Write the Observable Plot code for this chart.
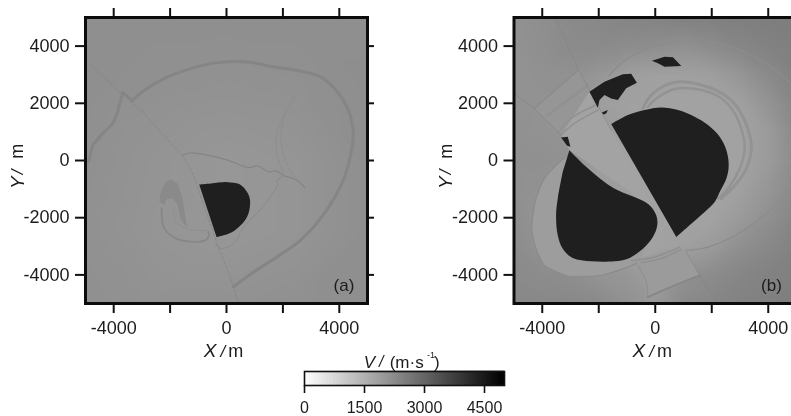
<!DOCTYPE html>
<html>
<head>
<meta charset="utf-8">
<script src="https://cdn.jsdelivr.net/npm/d3@7"></script>
<script src="https://cdn.jsdelivr.net/npm/@observablehq/plot@0.6"></script>
<style>
html,body{margin:0;padding:0;background:#fff;overflow:hidden}
#page{position:relative;width:791px;height:416px;overflow:hidden;filter:blur(0.45px)}
#page svg{position:absolute;top:0;max-width:none}
</style>
</head>
<body>
<div id="page"></div>
<script>
// Shared axis values
const tickValues = [-4000, -2000, 0, 2000, 4000];
const xLabelled = [-4000, 0, 4000];
const legendTicks = [0, 1500, 3000, 4500];
const velocityDomain = [0, 5000];

// Background velocity fields, rows from Y=5000 down to Y=-5000
const gridA = [
  [2200,2200,2200,2200,2200],
  [2200,2160,2140,2160,2210],
  [2180,2100,2040,2080,2200],
  [2160,2080,2040,2080,2200],
  [2180,2140,2140,2180,2210]
];
const gridB = [
  [2140,2210,2290,2330,2390,2430,2470,2490,2510,2530,2550],
  [2140,2200,2270,2290,2250,2210,2160,2250,2370,2450,2510],
  [2120,2160,2160,2060,1900,1860,1860,1900,2060,2290,2450],
  [2140,2140,2060,1900,1860,1820,1820,1820,1860,2100,2370],
  [2160,2140,2100,1960,1820,1820,1820,1820,1820,1960,2290],
  [2180,2180,2140,1940,1820,1820,1820,1820,1820,1960,2250],
  [2180,2140,2020,1860,1820,1820,1820,1820,1860,2060,2290],
  [2210,2100,1900,1820,1820,1820,1820,1820,1960,2180,2370],
  [2250,2140,1900,1860,1820,1820,1860,1960,2180,2330,2450],
  [2290,2250,2210,2100,2060,1900,2160,2250,2370,2450,2490],
  [2330,2330,2330,2290,2160,2020,2290,2370,2450,2490,2530]
];

// Panel (a)
const aBlob = [[-968,-838],[-555,-803],[35,-757],[448,-826],[684,-1036],[800,-1240],[838,-1443],[779,-1851],[566,-2200],[153,-2526],[-354,-2677]];
const aHook = [[-2384,-1443],[-2325,-1094],[-2148,-745],[-1971,-663],[-1735,-803],[-1558,-1327],[-1404,-2351],[-1617,-2084],[-1735,-1560],[-1912,-1327],[-2112,-1327],[-2207,-1560]];
const aOuter = [[-3363,2072],[-2915,2456],[-2089,2922],[-1263,3213],[-319,3422],[743,3445],[1687,3271],[2631,3120],[3339,2922],[3929,2398],[4342,1699],[4496,943],[4402,186],[4166,-629],[3811,-1327],[3339,-2025],[2631,-2782],[1805,-3364],[979,-3888],[248,-4412]];
const aWest = [[-4897,-47],[-4744,535],[-4390,943],[-4036,1292],[-3859,1699],[-3682,2375],[-3410,2165]];
const aFault = [[-4862,3387],[-3918,2514],[-3033,1758],[-1853,477],[-1558,186],[-1145,-570],[-319,-2957],[153,-4121],[413,-4935]];
const aInner = [[-1558,186],[-1263,268],[-673,186],[35,12],[802,-244],[1097,-186],[1510,-396],[1746,-361],[2041,-535],[2454,-663],[2773,-943]];
const aInnerSouth = [[2041,-535],[1805,-687],[1805,-861],[1333,-1560],[576,-2375],[271,-2898],[-200,-3073],[-380,-2950]];
const aDotted1 = [[2454,2282],[2100,1699],[1805,1059],[1781,303],[2041,-512]];
const aDotted2 = [[2050,1600],[1930,640],[2290,-400],[2650,-810]];
const aLoop = [[-2301,-1676],[-2207,-2375],[-1794,-2724],[-1263,-2840],[-767,-2794],[-614,-2607],[-649,-2491]];
const aLoopInner = [[-1888,-1734],[-1794,-2142],[-1381,-2398],[-673,-2444]];

// Panel (b)
const bMain = [[-1560,1273],[-969,1588],[-378,1764],[213,1857],[804,1764],[1395,1530],[1868,1238],[2281,829],[2518,362],[2600,-164],[2518,-631],[2281,-1098],[2104,-1448],[1749,-1799],[1277,-2208],[745,-2675]];
const bSouth = [[-3038,362],[-2506,-164],[-1797,-748],[-1324,-1040],[-615,-1332],[-201,-1565],[35,-1916],[71,-2266],[-83,-2675],[-437,-3084],[-969,-3434],[-1442,-3527],[-2269,-3527],[-2920,-3411],[-3274,-3084],[-3451,-2616],[-3511,-1916],[-3451,-1332],[-3274,-397]];
const bSpot = [[-3333,806],[-3097,829],[-3002,479],[-3120,514]];
const bNorth = [[-2329,2406],[-1797,2756],[-1147,3013],[-851,3037],[-650,2721],[-1028,2523],[-1324,2114],[-1560,2172],[-1797,2289],[-1974,2114],[-2033,1845]];
const bSliver = [[-1891,1682],[-1678,1764],[-1738,1647],[-1832,1612]];
const bTop = [[-118,3492],[331,3632],[626,3609],[922,3305],[331,3282],[95,3399]];
const bWedge = [[-2329,2406],[-1560,1063],[-24,-1705],[-1000,-1000],[-3038,362],[-3333,888]];
const bBand = [[-2719,3165],[-2329,2464],[-3333,888],[-4279,1822]];
const bLowWedge = [[-851,-3492],[863,-3025],[1099,-3200],[1572,-4018],[-260,-4777],[-556,-3784]];
const bSouthZone = [[-3097,187],[-3511,-164],[-3924,-631],[-4220,-1332],[-4373,-2383],[-4220,-3084],[-3924,-3668],[-3097,-4041],[-1915,-4018],[-674,-3609],[-500,-3500],[0,-2000],[-1000,-1000]];
const bOuterSE = [[1099,-3142],[1868,-3025],[3050,-2500],[3995,-1799],[4704,-981],[5059,-280]];
const bOuterN = [[-1678,2932],[-969,3574],[-24,3983],[1277,4181],[2459,4041],[3641,3574],[4468,2990],[4941,2581],[5295,2200]];
const bRing1 = [[-437,1822],[-142,2289],[686,2733],[1631,2640],[2459,2289],[2931,1822],[3345,888],[3404,420],[3227,-280],[2872,-806],[2340,-1332]];
const bRing2 = [[-260,1880],[95,2208],[686,2500],[1631,2464],[2340,2172],[2813,1647],[3109,888],[3168,420],[2990,-280],[2577,-981],[2222,-1332]];
const bNW1 = [[-2719,3165],[-4279,1822]];
const bNW2 = [[-2388,2640],[-3806,1588]];
const bNW3 = [[-2092,1939],[-2979,1472],[-3451,946]];
const bNW4 = [[-2033,1764],[-2860,1296],[-3333,888]];
const bSW = [[-3097,187],[-3511,-164],[-3924,-631],[-4220,-1332],[-4373,-2383],[-4220,-3084],[-3924,-3668],[-3097,-4041],[-1915,-4018],[-674,-3609]];
const bLow1 = [[-851,-3492],[-24,-3375],[863,-3025]];
const bLow2 = [[-496,-3574],[213,-3434],[898,-3107]];
const bLow3 = [[-260,-4777],[686,-4368],[1572,-4018]];
const bLow4 = [[-615,-3667],[-319,-4251],[-260,-4777]];
const bFaultN = [[-3511,4917],[-2719,3165],[-1560,1063]];
const bFaultS = [[1099,-3200],[1572,-4018],[2222,-5011]];
const bFaultW = [[-4964,2313],[-4279,1822],[-3333,888]];

const fontFamily = "'Liberation Sans',Arial,sans-serif";
const ink = "#1c1c1c";
const colorScale = {type: "linear", domain: velocityDomain, range: ["#ffffff", "#000000"]};

const px = d => d[0], py = d => d[1];
const poly = (a, v, curve = "linear") => Plot.line(a, {x: px, y: py, fill: () => v, stroke: "none", curve, clip: true});
const path = (a, v, w, extra = {}) =>
  Plot.line(a, {x: px, y: py, stroke: () => v, strokeWidth: w, curve: "catmull-rom", clip: true, ...extra});
const fromGrid = rows => {
  const n = rows.length, step = 10000 / (n - 1), out = [];
  rows.forEach((row, i) => row.forEach((V, j) => out.push({x: -5000 + j * step, y: 5000 - i * step, V})));
  return out;
};
const text = (s, opts) => Plot.text([s], {text: d => d, fill: ink, ...opts});

function panel(grid, shapes, label, labelX, width, marginLeft, marginRight) {
  return Plot.plot({
    width, height: 370, marginLeft, marginRight, marginTop: 17, marginBottom: 67,
    style: {fontFamily, background: "transparent", overflow: "visible"},
    x: {domain: [-5000, 5000]},
    y: {domain: [-5000, 5000]},
    color: colorScale,
    marks: [
      Plot.raster(fromGrid(grid), {x: "x", y: "y", fill: "V", interpolate: "barycentric",
        x1: -5000, x2: 5000, y1: -5000, y2: 5000, pixelSize: 1}),
      ...shapes,
      Plot.frame({stroke: "#0c0c0c", strokeWidth: 3}),
      Plot.axisX({anchor: "bottom", ticks: tickValues, tickSize: 10, tickPadding: 8, strokeWidth: 2, stroke: "#111",
        fill: ink, fontSize: 18, label: null, tickFormat: d => xLabelled.includes(d) ? String(d) : ""}),
      Plot.axisX({anchor: "top", ticks: tickValues, tickSize: 10, strokeWidth: 2, stroke: "#111", label: null, tickFormat: () => ""}),
      Plot.axisY({anchor: "left", ticks: tickValues, tickSize: 10, tickPadding: 6, strokeWidth: 2, stroke: "#111",
        fill: ink, fontSize: 18, label: null, tickFormat: d => String(d)}),
      Plot.axisY({anchor: "right", ticks: tickValues, tickSize: 6, strokeWidth: 2, stroke: "#111", label: null, tickFormat: () => ""}),
      text(label, {x: () => labelX, y: () => -4360, fontSize: 17}),
      text("X", {x: () => -580, frameAnchor: "bottom", dy: 53, fontSize: 19, fontStyle: "italic"}),
      text("/", {x: () => -130, frameAnchor: "bottom", dy: 53, fontSize: 17, fontStyle: "italic"}),
      text("m", {x: () => 330, frameAnchor: "bottom", dy: 53, fontSize: 18}),
      text("Y", {y: () => -1000, frameAnchor: "left", dx: -68, fontSize: 19, fontStyle: "italic", rotate: -90}),
      text("/", {y: () => -480, frameAnchor: "left", dx: -68, fontSize: 17, fontStyle: "italic", rotate: -90}),
      text("m", {y: () => 60, frameAnchor: "left", dx: -68, fontSize: 18, rotate: -90})
    ]
  });
}

const shapesA = [
  path(aOuter, 2400, 3),
  path(aWest, 2400, 3, {curve: "linear"}),
  path(aFault, 2450, 0.7, {strokeDasharray: "3 2", curve: "linear"}),
  path(aInner, 2400, 1.2),
  path(aInnerSouth, 2350, 0.8),
  path(aDotted1, 2350, 0.7, {strokeDasharray: "1 1.5"}),
  path(aDotted2, 2350, 0.7, {strokeDasharray: "1 1.5"}),
  poly(aHook, 2300),
  path(aLoop, 2350, 1.8),
  path(aLoopInner, 2250, 0.7),
  poly(aBlob, 4400, "catmull-rom")
];

const shapesB = [
  poly(bSouthZone, 1930),
  poly(bBand, 2060),
  poly(bLowWedge, 1960),
  poly(bWedge, 1800),
  path(bOuterSE, 2250, 1.3),
  path(bOuterN, 2250, 1.3),
  path(bRing1, 2120, 3),
  path(bRing2, 2120, 2.4),
  path(bNW1, 2300, 1.2),
  path(bNW2, 2150, 3),
  path(bNW3, 2150, 1.5),
  path(bNW4, 2150, 1.5),
  path(bSW, 2250, 1.3),
  path(bLow1, 2200, 1.3),
  path(bLow2, 2200, 1.3),
  path(bLow3, 2350, 2),
  path(bLow4, 2250, 1),
  path(bFaultN, 2500, 0.6, {strokeDasharray: "2 1.5", curve: "linear"}),
  path(bFaultS, 2500, 0.6, {strokeDasharray: "2 1.5", curve: "linear"}),
  path(bFaultW, 2500, 0.6, {strokeDasharray: "2 1.5", curve: "linear"}),
  poly(bSouth, 4400, "catmull-rom"),
  poly(bMain, 4400, "catmull-rom"),
  poly(bSpot, 4400),
  poly(bNorth, 4400),
  poly(bSliver, 4400),
  poly(bTop, 4400)
];

const legendSteps = d3.range(0, 5000, 25);
const legendPlot = Plot.plot({
  width: 791, height: 76, marginLeft: 304, marginRight: 287, marginTop: 31, marginBottom: 31,
  style: {fontFamily, background: "transparent", overflow: "visible"},
  x: {domain: velocityDomain},
  y: {axis: null},
  color: colorScale,
  marks: [
    Plot.rectX(legendSteps, {x1: d => d, x2: d => d + 25, fill: d => d + 12.5, inset: -0.2}),
    Plot.frame({stroke: "#111", strokeWidth: 1.6}),
    Plot.axisX({anchor: "bottom", ticks: legendTicks, tickSize: 8, tickPadding: 8, strokeWidth: 1.6, stroke: "#111",
      fill: ink, fontSize: 16, label: null, tickFormat: d => String(d)}),
    text("V", {x: () => 1620, frameAnchor: "top", dy: -16, fontSize: 17, fontStyle: "italic"}),
    text("/", {x: () => 1920, frameAnchor: "top", dy: -16, fontSize: 16, fontStyle: "italic"}),
    text("(m·s", {x: () => 2130, frameAnchor: "top", dy: -16, fontSize: 17, textAnchor: "start"}),
    text("-1", {x: () => 3060, frameAnchor: "top", dy: -20, fontSize: 9, textAnchor: "start"}),
    text(")", {x: () => 3240, frameAnchor: "top", dy: -16, fontSize: 17, textAnchor: "start"})
  ]
});

const page = document.getElementById("page");
const place = (svg, left, top) => { svg.style.left = left + "px"; svg.style.top = top + "px"; page.appendChild(svg); };
place(panel(gridA, shapesA, "(a)", 4165, 395, 85, 28), 0, 0);
place(panel(gridB, shapesB, "(b)", 4113, 373, 85.5, 5), 428, 0);
place(legendPlot, 0, 340);
</script>
</body>
</html>
